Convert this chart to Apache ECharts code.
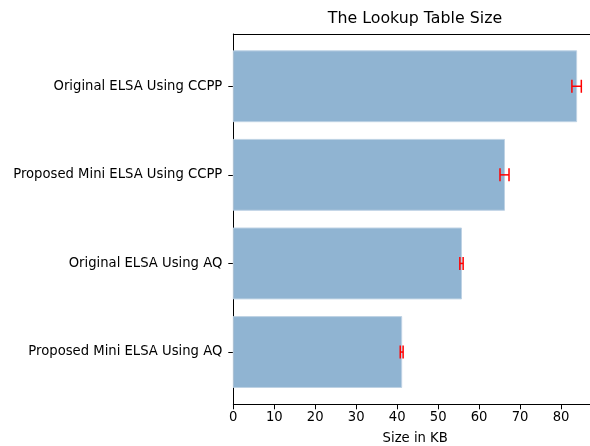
<!DOCTYPE html>
<html>
<head>
<meta charset="utf-8">
<script src="https://cdn.jsdelivr.net/npm/echarts@6/dist/echarts.min.js"></script>
<style>html,body{margin:0;padding:0;background:#fff}#c{width:590px;height:446px}</style>
</head>
<body>
<div id="c"></div>
<script>
// Data (bottom to top, as in the reference)
var categories = ['Proposed Mini ELSA Using AQ', 'Original ELSA Using AQ', 'Proposed Mini ELSA Using CCPP', 'Original ELSA Using CCPP'];
var sizes = [41.1, 55.7, 66.2, 83.8];
var errors = [0.35, 0.4, 1.1, 1.15];
var xTicks = [0, 10, 20, 30, 40, 50, 60, 70, 80];
var yTicks = [0, 1, 2, 3];

var FONT = 'DejaVu Sans';
var barData = sizes.map(function (v, i) { return [v, i]; });
var errData = sizes.map(function (v, i) { return [v - errors[i], v + errors[i], i]; });

var chart = echarts.init(document.getElementById('c'), null, { renderer: 'canvas' });
chart.setOption({
  animation: false,
  backgroundColor: '#ffffff',
  title: {
    text: 'The Lookup Table Size',
    left: 410, top: 6, textAlign: 'center',
    textStyle: { fontFamily: FONT, fontSize: 15.8, fontWeight: 'normal', color: '#000' }
  },
  grid: { left: 233.3, width: 363.8, top: 34, height: 370.3, containLabel: false, outerBoundsMode: 'none' },
  xAxis: [{
    type: 'value', min: 0, max: 88.8, position: 'bottom',
    axisLine: { show: true, onZero: false, lineStyle: { color: '#000', width: 1 } },
    axisTick: { show: true, length: 5, customValues: xTicks, lineStyle: { color: '#000' } },
    axisLabel: { customValues: xTicks, margin: 7, fontFamily: FONT, fontSize: 13.2, color: '#000' },
    splitLine: { show: false },
    name: 'Size in KB', nameLocation: 'middle', nameGap: 28,
    nameTextStyle: { fontFamily: FONT, fontSize: 13.2, color: '#000' }
  }, {
    type: 'value', min: 0, max: 88.8, position: 'top',
    axisLine: { show: true, onZero: false, lineStyle: { color: '#000', width: 1 } },
    axisTick: { show: false }, axisLabel: { show: false }, splitLine: { show: false }
  }],
  yAxis: {
    type: 'value', min: -0.59, max: 3.59,
    axisLine: { show: true, onZero: false, lineStyle: { color: '#000', width: 1 } },
    axisTick: { show: true, length: 5, customValues: yTicks, lineStyle: { color: '#000' } },
    axisLabel: {
      customValues: yTicks, margin: 11, fontFamily: FONT, fontSize: 13.2, color: '#000',
      formatter: function (v) { return categories[Math.round(v)]; }
    },
    splitLine: { show: false }
  },
  series: [{
    type: 'custom',
    xAxisIndex: 0, yAxisIndex: 0,
    data: barData,
    encode: { x: 0, y: 1 },
    renderItem: function (params, api) {
      var v = api.value(0), idx = api.value(1);
      var p0 = api.coord([0, idx]);
      var p1 = api.coord([v, idx]);
      var h = api.size([0, 0.8])[1];
      return {
        type: 'rect',
        shape: { x: p0[0], y: p0[1] - h / 2, width: p1[0] - p0[0], height: h },
        style: { fill: 'rgb(144,180,210)', stroke: 'rgba(190,210,228,1)', lineWidth: 1 }
      };
    }
  }, {
    type: 'custom',
    xAxisIndex: 0, yAxisIndex: 0,
    data: errData,
    encode: { x: [0, 1], y: 2 },
    renderItem: function (params, api) {
      var lo = api.value(0), hi = api.value(1), idx = api.value(2);
      var a = api.coord([lo, idx]);
      var b = api.coord([hi, idx]);
      var cap = 6.5;
      var st = { stroke: '#ff0000', lineWidth: 1.5 };
      return {
        type: 'group',
        children: [
          { type: 'line', shape: { x1: a[0], y1: a[1], x2: b[0], y2: b[1] }, style: st },
          { type: 'line', shape: { x1: a[0], y1: a[1] - cap, x2: a[0], y2: a[1] + cap }, style: st },
          { type: 'line', shape: { x1: b[0], y1: b[1] - cap, x2: b[0], y2: b[1] + cap }, style: st }
        ]
      };
    }
  }]
});
</script>
</body>
</html>
